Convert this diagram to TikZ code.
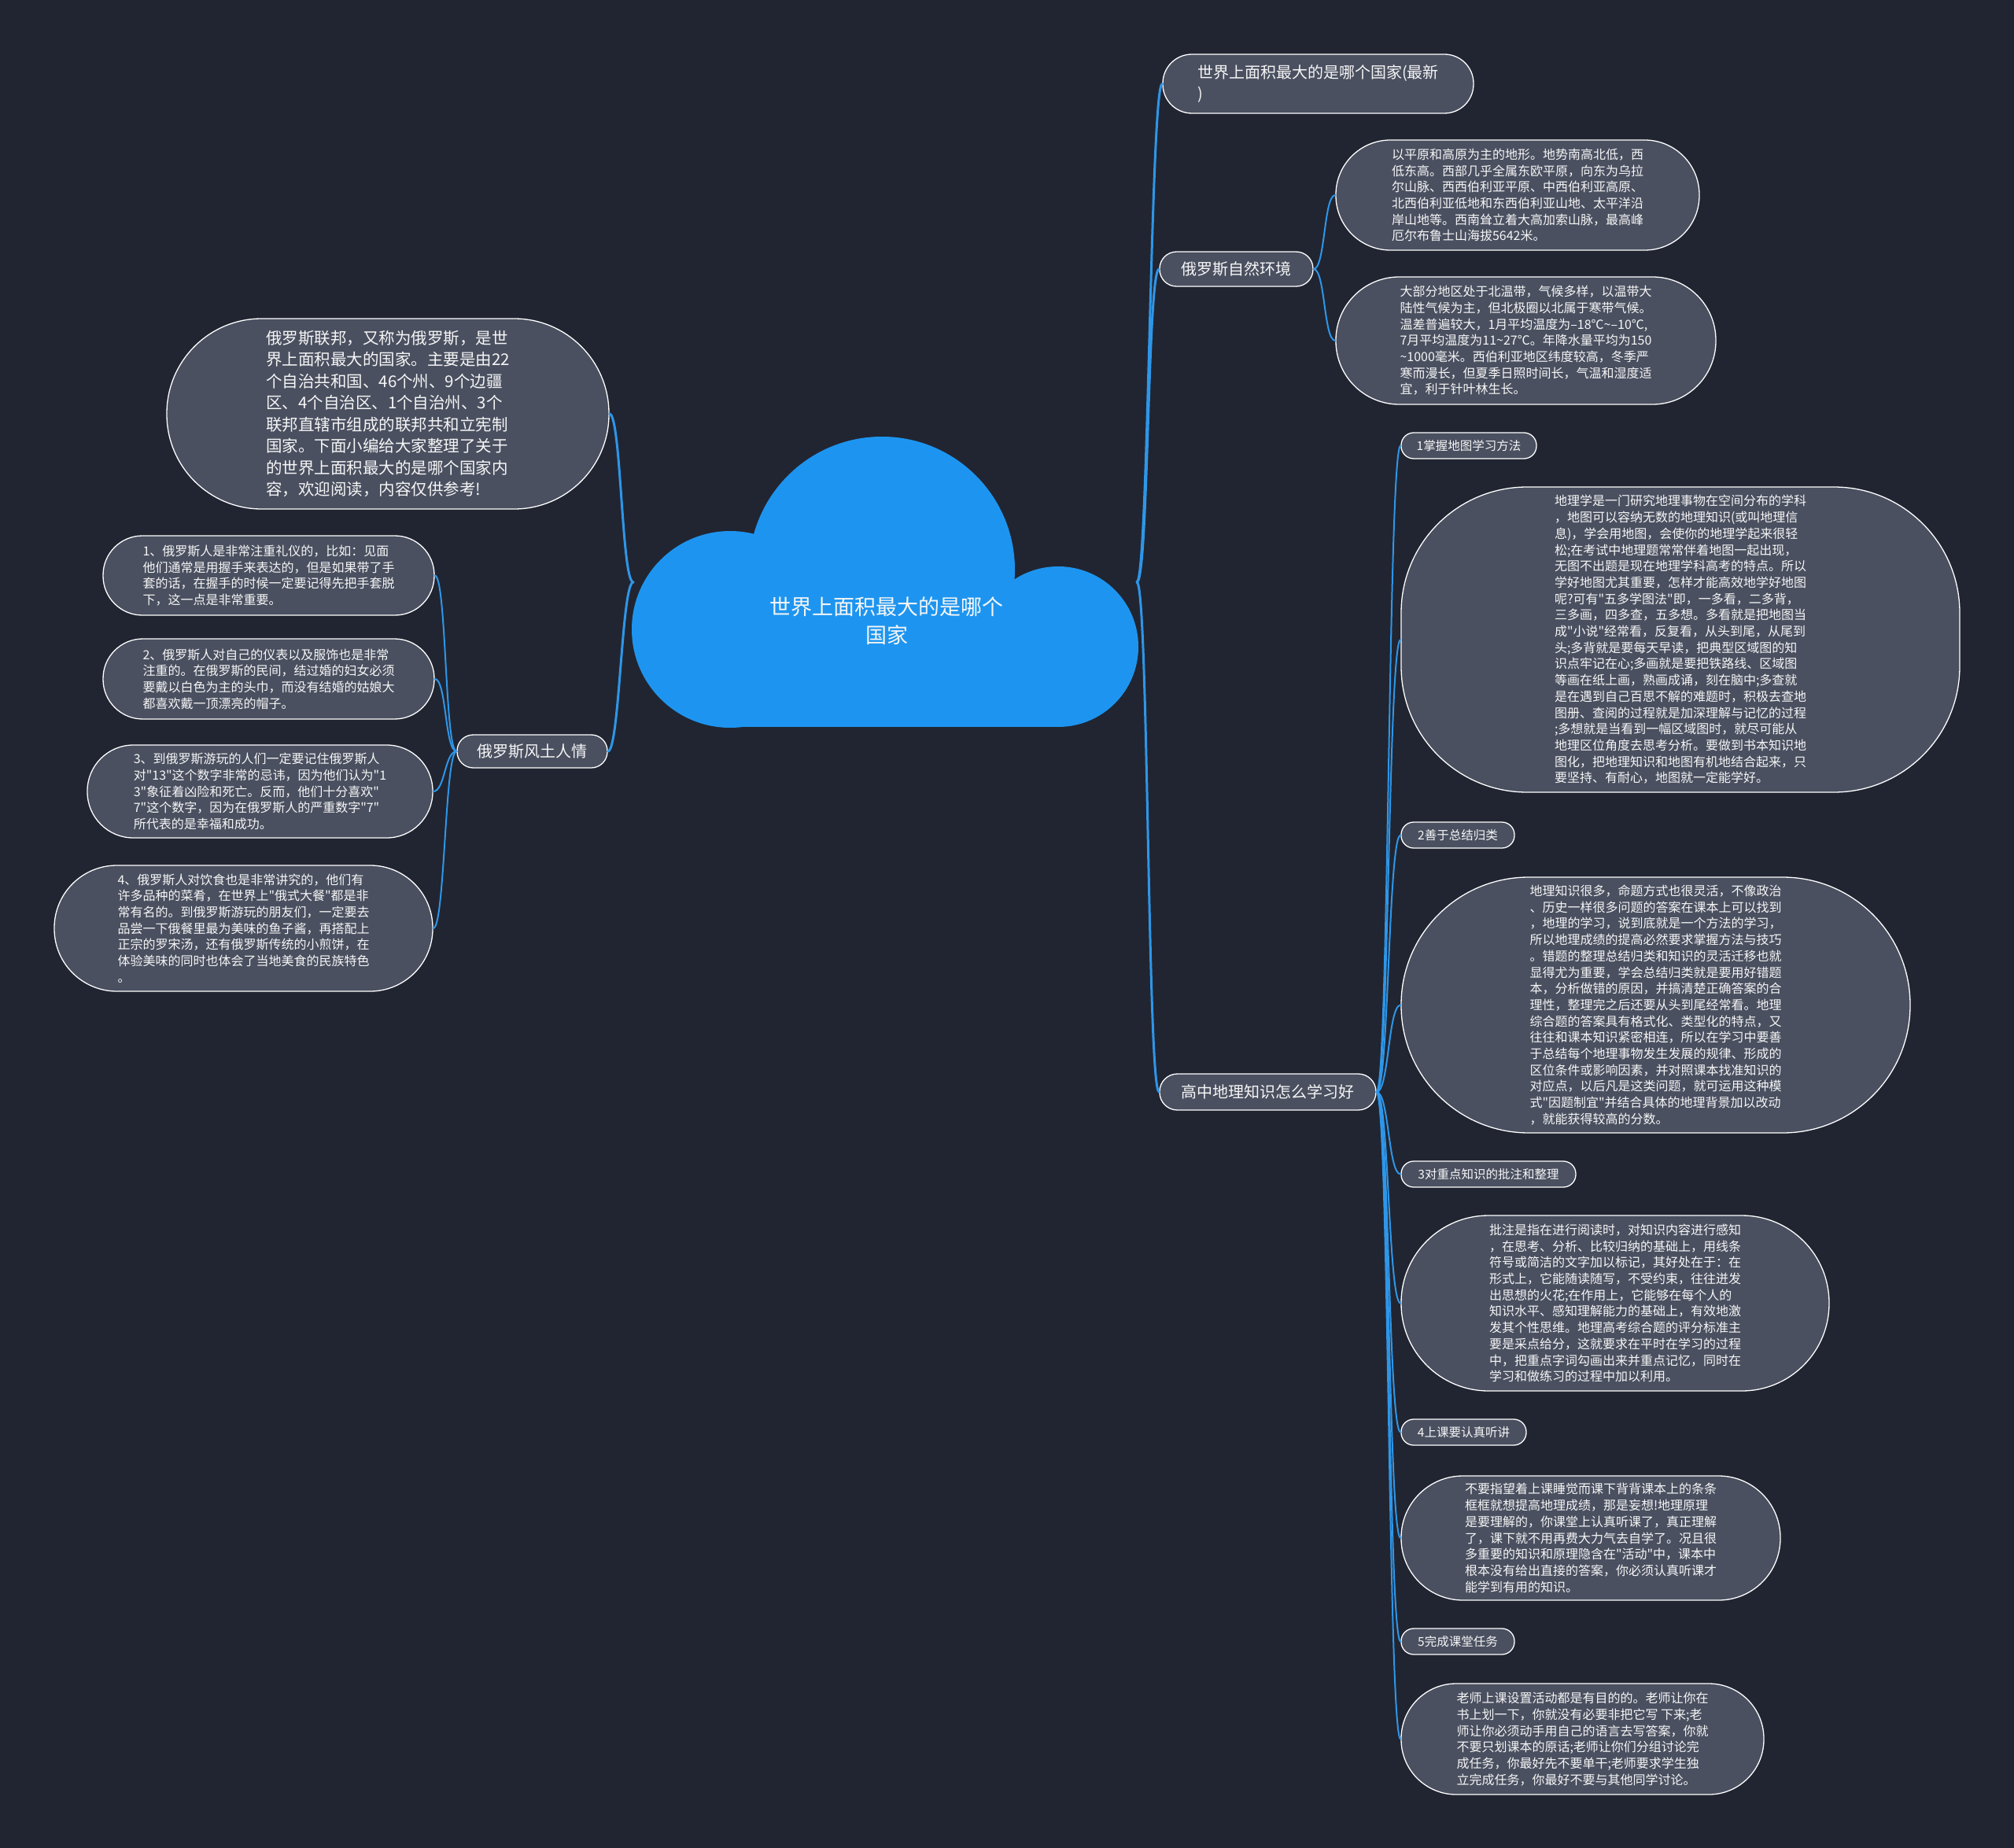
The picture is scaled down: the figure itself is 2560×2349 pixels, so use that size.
\documentclass[tikz,border=0pt]{standalone}
\usepackage{fontspec}
\setmainfont{Noto Sans CJK SC}[Ligatures=TeXOff]
\definecolor{bgc}{RGB}{33,37,49}
\definecolor{cloudc}{RGB}{29,149,240}
\definecolor{connc}{RGB}{46,150,232}
\definecolor{nodefill}{RGB}{74,80,96}
\definecolor{txt}{RGB}{246,246,246}
\begin{document}
\begin{tikzpicture}[x=1pt,y=-1pt,
  box/.style={draw=white, line width=1.3pt, fill=nodefill, text=txt, align=left, inner sep=0pt},
  bodytext/.style={font=\fontsize{16}{20.7}\selectfont},
  lbltext/.style={font=\fontsize{20}{27}\selectfont},
  tagtext/.style={font=\fontsize{15.5}{20}\selectfont},
  connA/.style={draw=connc, line width=3pt, line cap=round},
  connB/.style={draw=connc, line width=2pt, line cap=round},
]
\fill[bgc] (0,0) rectangle (2560,2349);
\useasboundingbox (0,0) rectangle (2560,2349);

% central cloud
\fill[cloudc] (1121,724) circle[radius=169pt];
\fill[cloudc] (928,800) circle[radius=125pt];
\fill[cloudc] (1345,822) circle[radius=102pt];
\fill[cloudc] (928,760) rectangle (1345,924);
\node[text=txt, align=center, font=\fontsize{27}{36}\selectfont, inner sep=0pt] (root) at (1127,789) {世界上面积最大的是哪个\\国家};
\coordinate (rootW) at (805,740);
\coordinate (rootE) at (1445,740);

% right side
\node[box, lbltext, minimum width=395pt, minimum height=75pt, rounded corners=37pt] (title) at (1675.5,106.5) {世界上面积最大的是哪个国家(最新\\)};
\node[box, lbltext, minimum width=195pt, minimum height=44pt, rounded corners=21.5pt] (nat) at (1571.5,342) {俄罗斯自然环境};
\node[box, bodytext, minimum width=462pt, minimum height=140pt, rounded corners=69.5pt] (n1) at (1929,248) {以平原和高原为主的地形。地势南高北低，西\\低东高。西部几乎全属东欧平原，向东为乌拉\\尔山脉、西西伯利亚平原、中西伯利亚高原、\\北西伯利亚低地和东西伯利亚山地、太平洋沿\\岸山地等。西南耸立着大高加索山脉，最高峰\\厄尔布鲁士山海拔5642米。};
\node[box, bodytext, minimum width=483pt, minimum height=162pt, rounded corners=80.5pt] (n2) at (1939.5,433) {大部分地区处于北温带，气候多样，以温带大\\陆性气候为主，但北极圈以北属于寒带气候。\\温差普遍较大，1月平均温度为–18℃\textasciitilde–10℃,\\7月平均温度为11\textasciitilde27℃。年降水量平均为150\\\textasciitilde1000毫米。西伯利亚地区纬度较高，冬季严\\寒而漫长，但夏季日照时间长，气温和湿度适\\宜，利于针叶林生长。};

\node[box, lbltext, minimum width=275pt, minimum height=46pt, rounded corners=22.5pt] (geo) at (1611.5,1388) {高中地理知识怎么学习好};

\node[box, tagtext, minimum width=172pt, minimum height=33pt, rounded corners=16pt] (s1) at (1867,566.5) {1掌握地图学习方法};
\node[box, bodytext, minimum width=710pt, minimum height=388pt, rounded corners=160pt] (t1) at (2136,813) {地理学是一门研究地理事物在空间分布的学科\\，地图可以容纳无数的地理知识(或叫地理信\\息)，学会用地图，会使你的地理学起来很轻\\松;在考试中地理题常常伴着地图一起出现，\\无图不出题是现在地理学科高考的特点。所以\\学好地图尤其重要，怎样才能高效地学好地图\\呢?可有"五多学图法"即，一多看，二多背，\\三多画，四多查，五多想。多看就是把地图当\\成"小说"经常看，反复看，从头到尾，从尾到\\头;多背就是要每天早读，把典型区域图的知\\识点牢记在心;多画就是要把铁路线、区域图\\等画在纸上画，熟画成诵，刻在脑中;多查就\\是在遇到自己百思不解的难题时，积极去查地\\图册、查阅的过程就是加深理解与记忆的过程\\;多想就是当看到一幅区域图时，就尽可能从\\地理区位角度去思考分析。要做到书本知识地\\图化，把地理知识和地图有机地结合起来，只\\要坚持、有耐心，地图就一定能学好。};

\node[box, tagtext, minimum width=144pt, minimum height=33pt, rounded corners=16pt] (s2) at (1853,1061.5) {2善于总结归类};
\node[box, bodytext, minimum width=647pt, minimum height=325pt, rounded corners=162pt] (t2) at (2104.5,1277.5) {地理知识很多，命题方式也很灵活，不像政治\\、历史一样很多问题的答案在课本上可以找到\\，地理的学习，说到底就是一个方法的学习，\\所以地理成绩的提高必然要求掌握方法与技巧\\。错题的整理总结归类和知识的灵活迁移也就\\显得尤为重要，学会总结归类就是要用好错题\\本，分析做错的原因，并搞清楚正确答案的合\\理性，整理完之后还要从头到尾经常看。地理\\综合题的答案具有格式化、类型化的特点，又\\往往和课本知识紧密相连，所以在学习中要善\\于总结每个地理事物发生发展的规律、形成的\\区位条件或影响因素，并对照课本找准知识的\\对应点，以后凡是这类问题，就可运用这种模\\式"因题制宜"并结合具体的地理背景加以改动\\，就能获得较高的分数。};

\node[box, tagtext, minimum width=222pt, minimum height=33pt, rounded corners=16pt] (s3) at (1892,1492.5) {3对重点知识的批注和整理};
\node[box, bodytext, minimum width=544pt, minimum height=223pt, rounded corners=111pt] (t3) at (2053,1656.5) {批注是指在进行阅读时，对知识内容进行感知\\，在思考、分析、比较归纳的基础上，用线条\\符号或简洁的文字加以标记，其好处在于：在\\形式上，它能随读随写，不受约束，往往迸发\\出思想的火花;在作用上，它能够在每个人的\\知识水平、感知理解能力的基础上，有效地激\\发其个性思维。地理高考综合题的评分标准主\\要是采点给分，这就要求在平时在学习的过程\\中，把重点字词勾画出来并重点记忆，同时在\\学习和做练习的过程中加以利用。};

\node[box, tagtext, minimum width=159pt, minimum height=33pt, rounded corners=16pt] (s4) at (1860.5,1820.5) {4上课要认真听讲};
\node[box, bodytext, minimum width=482pt, minimum height=158pt, rounded corners=78.5pt] (t4) at (2022,1955) {不要指望着上课睡觉而课下背背课本上的条条\\框框就想提高地理成绩，那是妄想!地理原理\\是要理解的，你课堂上认真听课了，真正理解\\了，课下就不用再费大力气去自学了。况且很\\多重要的知识和原理隐含在"活动"中，课本中\\根本没有给出直接的答案，你必须认真听课才\\能学到有用的知识。};

\node[box, tagtext, minimum width=144pt, minimum height=33pt, rounded corners=16pt] (s5) at (1853,2086.5) {5完成课堂任务};
\node[box, bodytext, minimum width=461pt, minimum height=141pt, rounded corners=70pt] (t5) at (2011.5,2210.5) {老师上课设置活动都是有目的的。老师让你在\\书上划一下，你就没有必要非把它写 下来;老\\师让你必须动手用自己的语言去写答案，你就\\不要只划课本的原话;老师让你们分组讨论完\\成任务，你最好先不要单干;老师要求学生独\\立完成任务，你最好不要与其他同学讨论。};

% left side
\node[box, font=\fontsize{20.5}{27.5}\selectfont, minimum width=562pt, minimum height=242pt, rounded corners=120.5pt] (intro) at (493,526) {俄罗斯联邦，又称为俄罗斯，是世\\界上面积最大的国家。主要是由22\\个自治共和国、46个州、9个边疆\\区、4个自治区、1个自治州、3个\\联邦直辖市组成的联邦共和立宪制\\国家。下面小编给大家整理了关于\\的世界上面积最大的是哪个国家内\\容，欢迎阅读，内容仅供参考!};
\node[box, lbltext, minimum width=191pt, minimum height=42pt, rounded corners=20.5pt] (cust) at (676.5,955) {俄罗斯风土人情};

\node[box, bodytext, minimum width=421pt, minimum height=101pt, rounded corners=50pt] (l1) at (341.5,731.5) {1、俄罗斯人是非常注重礼仪的，比如：见面\\他们通常是用握手来表达的，但是如果带了手\\套的话，在握手的时候一定要记得先把手套脱\\下，这一点是非常重要。};
\node[box, bodytext, minimum width=421pt, minimum height=102pt, rounded corners=50.5pt] (l2) at (341.5,863) {2、俄罗斯人对自己的仪表以及服饰也是非常\\注重的。在俄罗斯的民间，结过婚的妇女必须\\要戴以白色为主的头巾，而没有结婚的姑娘大\\都喜欢戴一顶漂亮的帽子。};
\node[box, bodytext, minimum width=439pt, minimum height=118pt, rounded corners=58.5pt] (l3) at (330.5,1006) {3、到俄罗斯游玩的人们一定要记住俄罗斯人\\对"13"这个数字非常的忌讳，因为他们认为"1\\3"象征着凶险和死亡。反而，他们十分喜欢"\\7"这个数字，因为在俄罗斯人的严重数字"7"\\所代表的是幸福和成功。};
\node[box, bodytext, minimum width=481pt, minimum height=160pt, rounded corners=79.5pt] (l4) at (309.5,1180) {4、俄罗斯人对饮食也是非常讲究的，他们有\\许多品种的菜肴，在世界上"俄式大餐"都是非\\常有名的。到俄罗斯游玩的朋友们，一定要去\\品尝一下俄餐里最为美味的鱼子酱，再搭配上\\正宗的罗宋汤，还有俄罗斯传统的小煎饼，在\\体验美味的同时也体会了当地美食的民族特色\\。};

% connectors
\draw[connA] (rootE) .. controls +(15,0) and +(-15,0) .. (title.west);
\draw[connA] (rootE) .. controls +(15,0) and +(-15,0) .. (nat.west);
\draw[connA] (rootE) .. controls +(15,0) and +(-15,0) .. (geo.west);
\draw[connA] (rootW) .. controls +(-15,0) and +(15,0) .. (intro.east);
\draw[connA] (rootW) .. controls +(-15,0) and +(15,0) .. (cust.east);

\foreach \c in {n1,n2}
  \draw[connB] (nat.east) .. controls +(15,0) and +(-15,0) .. (\c.west);
\foreach \c in {s1,t1,s2,t2,s3,t3,s4,t4,s5,t5}
  \draw[connB] (geo.east) .. controls +(16,0) and +(-16,0) .. (\c.west);
\foreach \c in {l1,l2,l3,l4}
  \draw[connB] (cust.west) .. controls +(-15,0) and +(15,0) .. (\c.east);
\end{tikzpicture}
\end{document}
